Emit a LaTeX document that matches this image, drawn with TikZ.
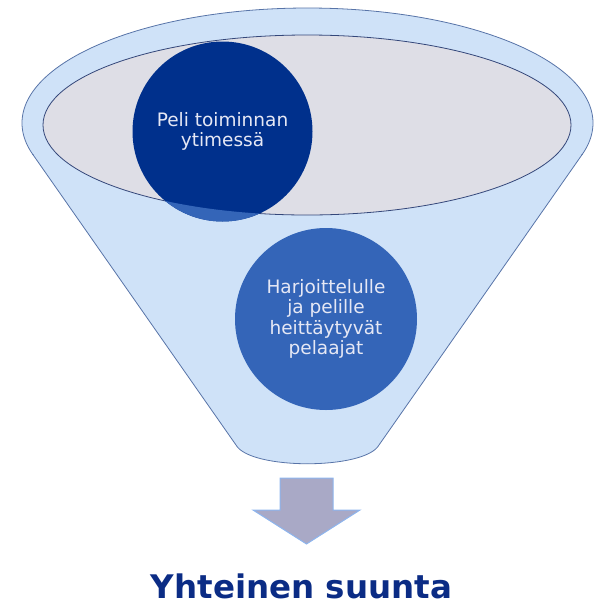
\documentclass[tikz,border=0pt]{standalone}
\usepackage{fontspec}
\setmainfont{DejaVu Sans}
\usepackage{xcolor}
\usepackage{tikz}
\usetikzlibrary{positioning, shapes.geometric}

\definecolor{funnelblue}{HTML}{CFE2F8}
\definecolor{funneledge}{HTML}{5874A8}
\definecolor{rimgray}{HTML}{DEDEE6}
\definecolor{rimedge}{HTML}{34477A}
\definecolor{corenavy}{HTML}{00308C}
\definecolor{playerblue}{HTML}{3465B8}
\definecolor{bubbletext}{HTML}{E6E8F5}
\definecolor{arrowgray}{HTML}{A9A9C6}
\definecolor{arrowedge}{HTML}{8DB5EE}
\definecolor{titlenavy}{HTML}{0B2C85}

\tikzset{
  bubble/.style={circle, inner sep=0pt, text=bubbletext, align=center,
    font=\fontsize{18.5}{20.5}\selectfont},
  funnelline/.style={draw=funneledge, line width=0.8pt}
}

\begin{document}
\begin{tikzpicture}[x=1pt, y=-1pt]
\useasboundingbox (0,0) rectangle (596,606);

% funnel body
\fill[funnelblue] (307.5,123) ellipse [x radius=285.5pt, y radius=115pt];
\fill[funnelblue] (32.5,154) -- (582.5,154) -- (379,445)
  .. controls (365,470) and (250,470) .. (236,445) -- cycle;
\begin{scope}
\clip (0,0) rectangle (596,154);
\draw[funnelline] (307.5,123) ellipse [x radius=285.5pt, y radius=115pt];
\end{scope}
\draw[funnelline] (32.5,154) -- (236,445)
  .. controls (250,470) and (365,470) .. (379,445) -- (582.5,154);

% rim
\draw[draw=rimedge, line width=0.8pt, fill=rimgray] (307,125) ellipse [x radius=264pt, y radius=90pt];

% bubbles
\node[bubble, fill=corenavy, minimum size=180pt] (core) at (222.5,131.5) {Peli toiminnan\\ytimessä};
\begin{scope}
\clip (core.center) circle [radius=90pt];
\fill[playerblue, even odd rule] (0,0) rectangle (596,606)
  (307,125) ellipse [x radius=264pt, y radius=90pt];
\end{scope}
\node[bubble, fill=playerblue, minimum size=182pt] (players) at (326,319) {Harjoittelulle\\ja pelille\\heittäytyvät\\pelaajat};

% arrow
\draw[draw=arrowedge, fill=arrowgray, line width=1pt, line join=miter]
  (280,478) -- (333,478) -- (333,510) -- (360,510) -- (306.5,544)
  -- (253,510) -- (280,510) -- cycle;

\node[anchor=base, inner sep=0pt, text=titlenavy, font=\bfseries\fontsize{32.5}{36}\selectfont]
  (direction) at (301.5,598) {Yhteinen suunta};
\end{tikzpicture}
\end{document}
